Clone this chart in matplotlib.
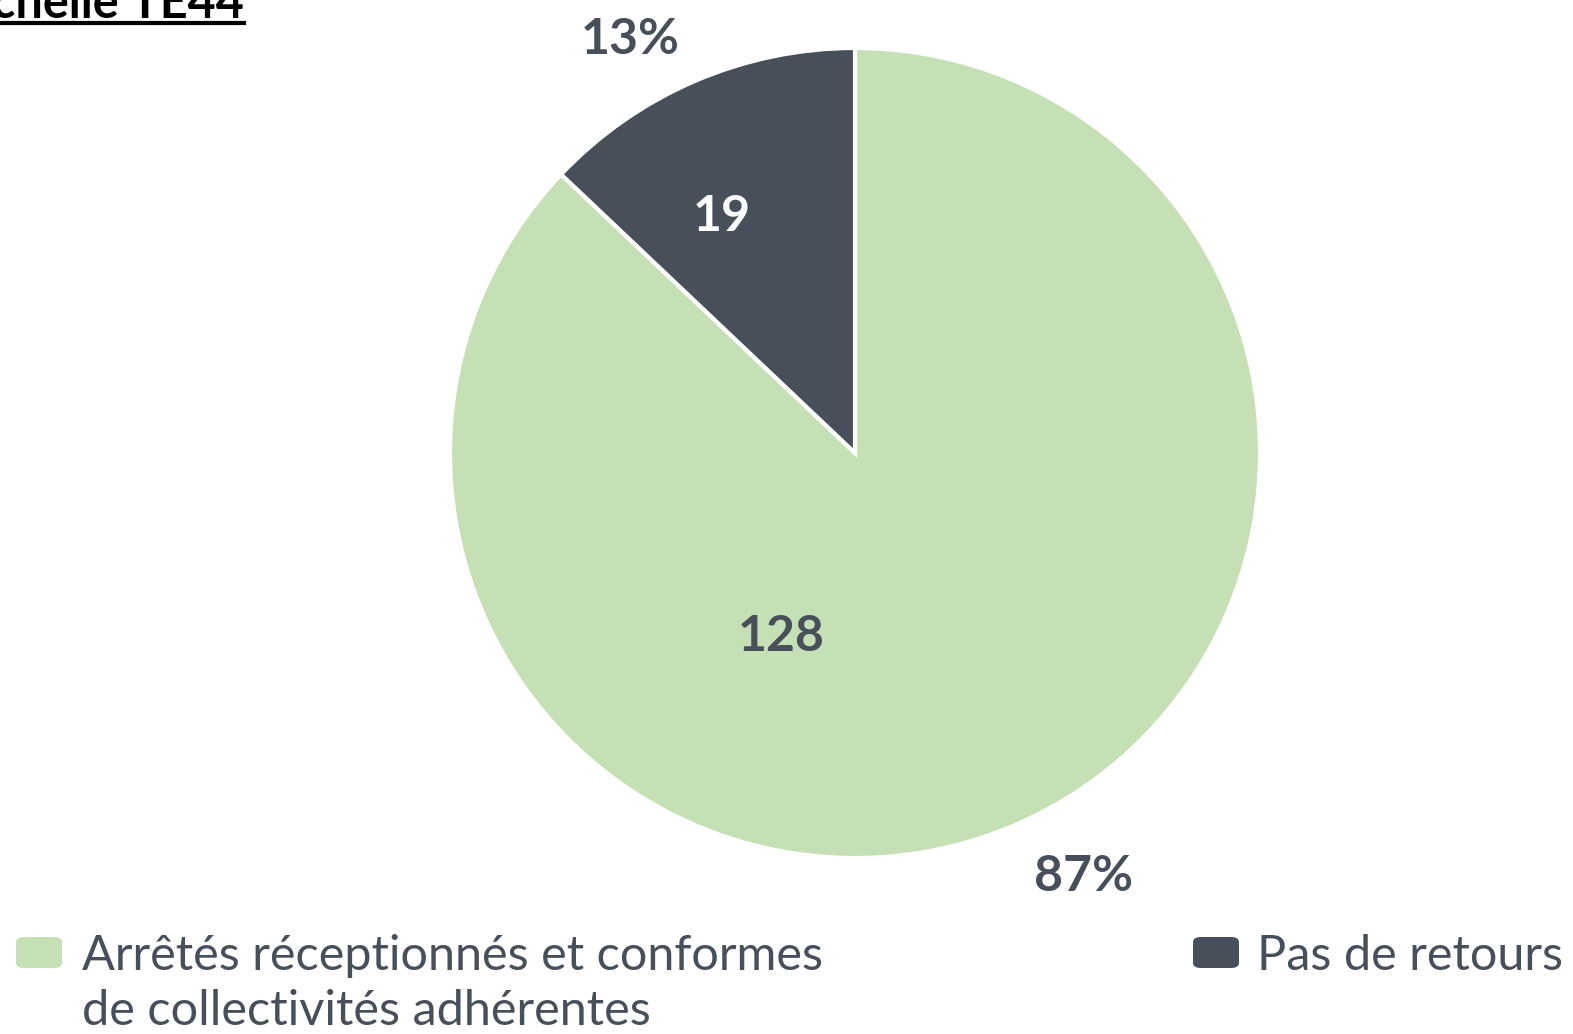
import numpy as np
import matplotlib.pyplot as plt
from matplotlib.lines import Line2D
from matplotlib.patches import FancyBboxPatch

labels = [["Arrêtés réceptionnés et conformes", "de collectivités adhérentes"], ["Pas de retours"]]
values = [128, 19]
colors = ["#C5E0B4", "#474F5A"]
value_colors = ["#474F5A", "white"]
title = "Échelle TE44"

W, H = 1573, 1034
fig = plt.figure(figsize=(W / 100, H / 100), dpi=100)
fig.patch.set_facecolor("white")

# pie centre (855, 453) px, radius ~405 px
cx, cy, r = 855, 453, 405
ax = fig.add_axes([(cx - r) / W, (H - cy - r) / H, 2 * r / W, 2 * r / H])
wedges, _ = ax.pie(values, colors=colors, startangle=90, counterclock=False,
                   radius=1, wedgeprops=dict(edgecolor="white", linewidth=3))
ax.set_xlim(-1, 1)
ax.set_ylim(-1, 1)
ax.set_aspect("auto")
ax.axis("off")

total = sum(values)
pcts = [f"{round(v / total * 100)}%" for v in values]

# value labels inside, percentage labels outside (Excel style placement)
inside_pos = [(-0.183, -0.452), (-0.33, 0.585)]
outside_pos = [(0.563, -1.045), (-0.555, 1.02)]
for i in range(len(values)):
    ax.text(*inside_pos[i], str(values[i]), ha="center", va="center",
            fontsize=36, fontweight="bold", color=value_colors[i],
            family="Lato")
    ax.text(*outside_pos[i], pcts[i], ha="center", va="center",
            fontsize=36, fontweight="bold", color="#474F5A",
            family="Lato")

# legend
for x0, c, tx, lines in [(16, colors[0], 82, labels[0]), (1193, colors[1], 1257, labels[1])]:
    fig.add_artist(FancyBboxPatch((x0 / W, 1 - 968 / H), 46 / W, 31 / H,
                                  boxstyle="round,pad=0,rounding_size=0.005",
                                  transform=fig.transFigure,
                                  facecolor=c, edgecolor="none"))
    for k, line in enumerate(lines):
        fig.text(tx / W, 1 - (970 + 55 * k) / H, line, ha="left", va="baseline",
                 fontsize=35, color="#474F5A", family="Lato")

# cropped, underlined title
t = fig.text(244 / W, 1 - 18 / H, title, ha="right", va="baseline", fontsize=35,
             fontweight="bold", color="black", family="Lato")
fig.canvas.draw()
bb = t.get_window_extent().transformed(fig.transFigure.inverted())
fig.add_artist(Line2D([bb.x0, bb.x1], [1 - 23 / H] * 2, transform=fig.transFigure,
                      color="black", linewidth=3))

fig.savefig("out.png", dpi=100)
